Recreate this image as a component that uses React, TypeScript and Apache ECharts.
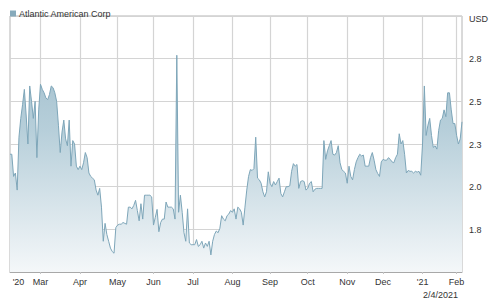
import React, { useEffect, useRef } from "react";
import * as echarts from "echarts";

// Daily closing prices (USD), one per trading day, 2/5/2020 .. 2/4/2021
const pricesFebApr2020 = [
  2.19, 2.19, 2.06, 2.08, 1.98, 2.29, 2.4, 2.48, 2.57, 2.42, 2.25, 2.59, 2.5, 2.4, 2.5, 2.17, 2.45,
  2.6, 2.57, 2.55, 2.52, 2.51, 2.54, 2.59, 2.58, 2.55, 2.5, 2.36, 2.2, 2.32, 2.39, 2.28, 2.24, 2.39,
  2.12, 2.27, 2.25, 2.12, 2.1, 2.12, 2.1, 2.14, 2.2, 2.17, 2.08, 2.06, 2.05, 2.04, 1.98, 1.95, 1.99,
  1.88, 1.68, 1.785, 1.72, 1.68, 1.64, 1.62, 1.61, 1.76,
];
const pricesMayJul2020 = [
  1.775, 1.78, 1.78, 1.79, 1.785, 1.78, 1.88, 1.88, 1.87, 1.89, 1.92, 1.86, 1.8, 1.9, 1.81, 1.95,
  1.95, 1.95, 1.95, 1.94, 1.775, 1.82, 1.867, 1.736, 1.79, 1.81, 1.81, 1.91, 1.88, 1.88, 1.88, 1.87,
  1.81, 2.77, 1.85, 1.95, 1.85, 1.73, 1.68, 1.87, 1.67, 1.66, 1.66, 1.66, 1.69, 1.65, 1.66, 1.68,
  1.64, 1.67, 1.65, 1.68, 1.6, 1.68, 1.72, 1.74, 1.73, 1.756, 1.83, 1.81, 1.8, 1.83, 1.84, 1.86,
];
const pricesAugOct2020 = [
  1.85, 1.87, 1.81, 1.88, 1.87, 1.85, 1.775, 1.88, 1.98, 2.06, 2.1, 2.095, 2.106, 2.29, 2.05, 2.04,
  2.02, 1.97, 1.94, 1.97, 2.087, 2.02, 2.0, 2.03, 2.01, 2.03, 2.05, 1.96, 1.94, 1.97, 2.0, 2.0,
  2.005, 2.09, 2.135, 2.12, 2.13, 1.99, 2.03, 2.035, 2.03, 1.98, 1.99, 2.02, 2.03, 1.97, 1.985, 1.99,
  1.99, 1.99, 1.99, 2.27, 2.16, 2.21, 2.24, 2.27, 2.19, 2.185, 2.2, 2.24, 2.14, 2.1, 2.09, 2.08,
];
const pricesNov2020Feb2021 = [
  2.02, 2.12, 2.06, 2.04, 2.1, 2.145, 2.17, 2.19, 2.18, 2.185, 2.12, 2.12, 2.12, 2.17, 2.2, 2.155,
  2.1, 2.077, 2.06, 2.145, 2.16, 2.155, 2.155, 2.17, 2.16, 2.145, 2.14, 2.17, 2.19, 2.31, 2.25, 2.27,
  2.19, 2.08, 2.095, 2.09, 2.09, 2.08, 2.09, 2.085, 2.09, 2.067, 2.25, 2.59, 2.3, 2.36, 2.4, 2.3,
  2.23, 2.24, 2.22, 2.33, 2.39, 2.4, 2.45, 2.41, 2.55, 2.55, 2.45, 2.37, 2.37, 2.3, 2.25, 2.28, 2.38,
];
const prices = [...pricesFebApr2020, ...pricesMayJul2020, ...pricesAugOct2020, ...pricesNov2020Feb2021];

// Trading-day index of the first session of each month, and its label
const monthStartIdx = [0, 17, 39, 60, 80, 102, 124, 145, 166, 188, 208, 230, 249];
const monthLabels = ["'20", "Mar", "Apr", "May", "Jun", "Jul", "Aug", "Sep", "Oct", "Nov", "Dec", "'21", "Feb"];
const yTicks = [1.5, 1.75, 2.0, 2.25, 2.5, 2.75, 3.0];

const seriesName = "Atlantic American Corp";
const asOfDate = "2/4/2021";
const currency = "USD";

export default function App() {
  const ref = useRef<HTMLDivElement>(null);
  useEffect(() => {
    if (!ref.current) return;
    const chart = echarts.init(ref.current, null, { renderer: "svg" });
    const categories = prices.map((_, i) => String(i));
    const labelOf = new Map<number, string>();
    monthStartIdx.forEach((idx, k) => labelOf.set(idx, monthLabels[k]));
    const gridTicks = new Set(monthStartIdx.slice(1));
    const font = "Liberation Sans, Arial, sans-serif";
    chart.setOption({
      animation: false,
      textStyle: { fontFamily: font },
      grid: {
        left: 10,
        right: 38,
        top: 16,
        bottom: 28,
        show: true,
        borderColor: "#b4b4b4",
        borderWidth: 1,
        backgroundColor: "transparent",
      },
      legend: {
        show: true,
        left: 5,
        top: 4,
        icon: "rect",
        itemWidth: 6,
        itemHeight: 6,
        itemGap: 4,
        textStyle: { fontSize: 9, color: "#333", fontFamily: font, padding: [0, 0, 0, -2] },
        data: [seriesName],
      },
      xAxis: {
        type: "category",
        data: categories,
        boundaryGap: false,
        axisLine: { show: true, lineStyle: { color: "#a8a8a8", width: 1 } },
        axisTick: {
          show: true,
          length: 2,
          interval: (i: number) => gridTicks.has(i),
          lineStyle: { color: "#c4c4c4" },
        },
        axisLabel: {
          interval: (i: number) => labelOf.has(i),
          formatter: (_v: string, i: number) => {
            const l = labelOf.get(i) || "";
            return i === 0 ? "{first|" + l + "}" : l;
          },
          rich: { first: { padding: [0, 0, 0, 17], fontSize: 9, color: "#333", fontFamily: font } },
          fontSize: 9,
          color: "#333",
          margin: 5,
          fontFamily: font,
        },
        splitLine: {
          show: true,
          interval: (i: number) => gridTicks.has(i),
          lineStyle: { color: "#d4d4d4", width: 1.2 },
        },
      },
      yAxis: {
        type: "value",
        position: "right",
        min: yTicks[0],
        max: yTicks[yTicks.length - 1],
        interval: 0.25,
        axisLine: { show: false },
        axisTick: { show: false },
        axisLabel: {
          fontSize: 9,
          color: "#333",
          margin: 7,
          fontFamily: font,
          verticalAlign: "top",
          padding: [-4, 0, 0, 0],
          formatter: (v: number) =>
            v <= yTicks[0] + 1e-9 || v >= yTicks[yTicks.length - 1] - 1e-9 ? "" : v.toFixed(1),
        },
        splitLine: { show: true, lineStyle: { color: "#d4d4d4", width: 1.2 } },
      },
      series: [
        {
          name: seriesName,
          type: "line",
          data: prices,
          showSymbol: false,
          symbol: "none",
          lineStyle: { color: "#7ea6b9", width: 1 },
          itemStyle: { color: "#86aabb" },
          areaStyle: {
            color: new echarts.graphic.LinearGradient(0, 0, 0, 1, [
              { offset: 0, color: "#a3c0ce" },
              { offset: 0.35, color: "#b7cfda" },
              { offset: 1, color: "#f4f7f9" },
            ]),
            opacity: 1,
          },
        },
      ],
      graphic: [
        {
          type: "text",
          left: 469,
          top: 14,
          style: { text: currency, fontSize: 9, fill: "#333", fontFamily: font },
        },
        {
          type: "text",
          right: 42,
          top: 290,
          style: { text: asOfDate, fontSize: 9, fill: "#333", fontFamily: font },
        },
      ],
    });
    return () => chart.dispose();
  }, []);
  return (
    <div
      ref={ref}
      style={{ position: "fixed", left: 0, top: 0, width: 500, height: 300, background: "#fff" }}
    />
  );
}
